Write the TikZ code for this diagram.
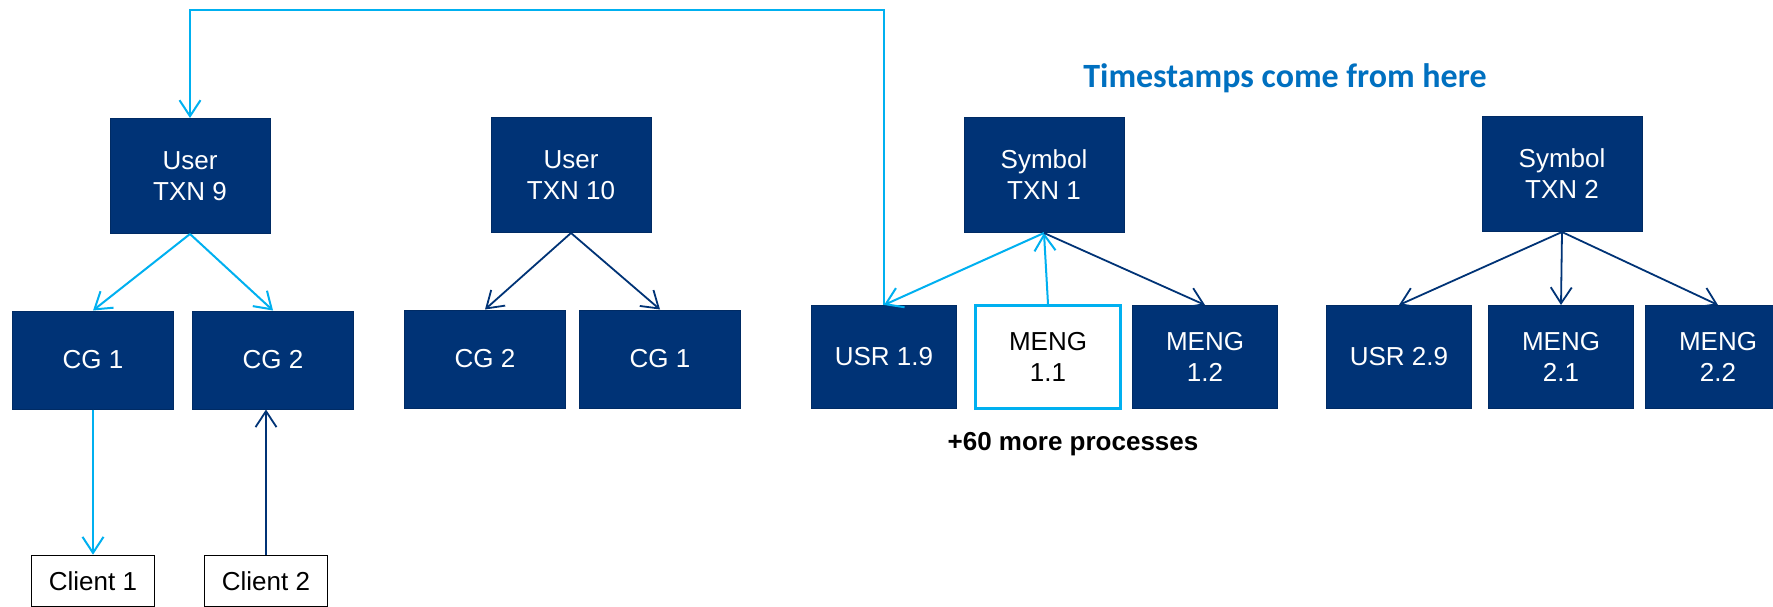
\documentclass[tikz,border=0pt]{standalone}
\usepackage{fontspec}
\setmainfont{Liberation Sans}
\newfontfamily\stampfont{Carlito}
\usetikzlibrary{positioning}
\usetikzlibrary{arrows.meta}
\definecolor{navy}{RGB}{0,51,118}
\definecolor{sky}{RGB}{0,176,240}
\definecolor{stampblue}{RGB}{0,112,192}

\tikzset{
	txnbox/.style={draw=navy!85!black,fill=navy,text=white,line width=1pt,inner sep=0pt,
		minimum width=160pt,minimum height=115pt,align=center,font=\fontsize{26}{31}\selectfont},
	cgbox/.style={txnbox,minimum width=161pt,minimum height=98pt},
	procbox/.style={txnbox,minimum width=145pt,minimum height=103pt},
	clientbox/.style={draw=black,fill=white,text=black,line width=1.6pt,inner sep=0pt,
		minimum width=123pt,minimum height=51pt,font=\fontsize{26}{31}\selectfont},
	skyline/.style={sky,line width=2pt,-{Straight Barb[length=16pt,width=21pt]}},
	navyline/.style={navy,line width=1.8pt,-{Straight Barb[length=16pt,width=21pt]}}
}

\begin{document}
\begin{tikzpicture}[x=1pt,y=-1pt]
	\clip (0,0) rectangle (1773,607);
	\fill[white] (0,0) rectangle (1773,607);

	% transactions
	\node[txnbox] (user9) at (190,176) {User\\TXN 9};
	\node[txnbox] (user10) at (571,175) {User\\TXN 10};
	\node[txnbox] (sym1) at (1044,175) {Symbol\\TXN 1};
	\node[txnbox] (sym2) at (1562,174) {Symbol\\TXN 2};

	% client gateways
	\node[cgbox] (cg1a) at (93,360) {CG 1};
	\node[cgbox] (cg2a) at (273,360) {CG 2};
	\node[cgbox] (cg2b) at (485,359) {CG 2};
	\node[cgbox] (cg1b) at (660,359) {CG 1};

	% processes
	\foreach \n/\x/\t in {usr19/884/USR 1.9,meng12/1205/MENG\\1.2,usr29/1399/USR 2.9,meng21/1561/MENG\\2.1,meng22/1718/MENG\\2.2}
		\node[procbox] (\n) at (\x,357) {\t};
	\node[procbox,draw=sky,fill=white,text=black,line width=3pt] (meng11) at (1048,357) {MENG\\1.1};

	% clients
	\node[clientbox] (client1) at (93,581) {Client 1};
	\node[clientbox] (client2) at (266,581) {Client 2};

	% connectors user txn -> cg
	\foreach \j in {cg1a,cg2a} \draw[skyline] (user9.south) -- (\j.north);
	\foreach \j in {cg2b,cg1b} \draw[navyline] (user10.south) -- (\j.north);

	% connectors cg <-> clients
	\draw[skyline] (cg1a.south) -- (client1.north);
	\draw[navyline] (client2.north) -- (client2.north |- cg2a.south);

	% connectors symbol txn -> processes
	\draw[skyline] (sym1.south) -- (usr19.north);
	\draw[skyline] (meng11.north) -- (sym1.south);
	\draw[navyline] (sym1.south) -- (meng12.north);
	\foreach \j in {usr29,meng21,meng22} \draw[navyline] (sym2.south) -- (\j.north);

	% feedback loop
	\coordinate (loop) at (0,10);
	\draw[skyline] (usr19.north) -- (usr19.north |- loop) -- (user9.north |- loop) -- (user9.north);

	% labels
	\node[anchor=base,text=stampblue,font=\stampfont\bfseries\fontsize{34}{40}\selectfont] (stamps) at (1285,88) {Timestamps come from here};
	\node[anchor=base,font=\bfseries\fontsize{26}{31}\selectfont] (more) at (1073,450) {+60 more processes};
\end{tikzpicture}
\end{document}
